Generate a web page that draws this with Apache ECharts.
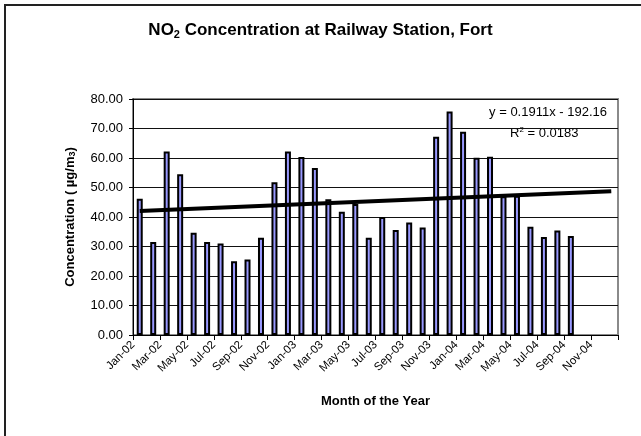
<!DOCTYPE html>
<html>
<head>
<meta charset="utf-8">
<script src="https://cdn.jsdelivr.net/npm/echarts@6/dist/echarts.min.js"></script>
<style>
html,body{margin:0;padding:0;background:#fff;}
#chart{width:641px;height:436px;}
</style>
</head>
<body>
<div id="chart"></div>
<script>
// Month labels (one per month, Jan-02 .. Dec-04)
var months = ['Jan-02','Feb-02','Mar-02','Apr-02','May-02','Jun-02','Jul-02','Aug-02','Sep-02','Oct-02','Nov-02','Dec-02',
              'Jan-03','Feb-03','Mar-03','Apr-03','May-03','Jun-03','Jul-03','Aug-03','Sep-03','Oct-03','Nov-03','Dec-03',
              'Jan-04','Feb-04','Mar-04','Apr-04','May-04','Jun-04','Jul-04','Aug-04','Sep-04','Oct-04','Nov-04','Dec-04'];
// NO2 concentration (µg/m3), Jan-02 .. Sep-04
var no2 = [46.2, 31.5, 62.2, 54.5, 34.7, 31.5, 31.0, 25.0, 25.6, 33.0, 51.8, 62.2,
           60.3, 56.6, 46.0, 41.8, 44.4, 33.0, 40.0, 35.6, 38.1, 36.4, 67.2, 75.8,
           68.9, 60.1, 60.4, 47.0, 47.2, 36.7, 33.2, 35.4, 33.6];
// Linear trend end points (month position, value)
var trendX = [0.5, 35.5];
var trendY = [42.0, 48.7];
var yTicks = [0, 10, 20, 30, 40, 50, 60, 70, 80];

var chart = echarts.init(document.getElementById('chart'), null, {renderer: 'canvas'});
var font = 'Liberation Sans, Arial, sans-serif';

var barData = no2.map(function (v, i) { return [i + 0.5, v]; });
var trendData = trendX.map(function (x, i) { return [x, trendY[i]]; });

chart.setOption({
  animation: false,
  backgroundColor: '#fff',
  title: {
    text: 'NO{sub|2} Concentration at Railway Station, Fort',
    left: 'center',
    top: 16,
    textStyle: {
      fontFamily: font, fontSize: 17, fontWeight: 'bold', color: '#000',
      rich: {
        sub: {fontFamily: font, fontSize: 11, fontWeight: 'bold', verticalAlign: 'bottom', padding: [8, 0, 0, 0], color: '#000'}
      }
    }
  },
  grid: {left: 133, right: 23, top: 99, bottom: 101, containLabel: false, show: false},
  xAxis: {
    type: 'value',
    min: 0, max: 36, interval: 2,
    name: 'Month of the Year',
    nameLocation: 'middle',
    nameGap: 60,
    nameTextStyle: {fontFamily: font, fontSize: 13, fontWeight: 'bold', color: '#000'},
    axisLine: {show: true, lineStyle: {color: '#000', width: 1}},
    axisTick: {show: true, length: 5, lineStyle: {color: '#000'}},
    splitLine: {show: false},
    axisLabel: {
      rotate: 45, fontFamily: font, fontSize: 11.5, color: '#000', margin: 8,
      showMaxLabel: true,
      formatter: function (v) { return v < 36 ? months[v] : ''; }
    }
  },
  yAxis: {
    type: 'value',
    min: yTicks[0], max: yTicks[yTicks.length - 1], interval: 10,
    name: 'Concentration ( µg/m{sub|3})',
    nameLocation: 'middle',
    nameGap: 56,
    nameTextStyle: {
      fontFamily: font, fontSize: 13, fontWeight: 'bold', color: '#000',
      rich: {sub: {fontFamily: font, fontSize: 9, fontWeight: 'bold', verticalAlign: 'bottom', padding: [5, 0, 0, 0], color: '#000'}}
    },
    axisLine: {show: true, lineStyle: {color: '#000', width: 1}},
    axisTick: {show: true, length: 4, lineStyle: {color: '#000'}},
    splitLine: {show: true, lineStyle: {color: '#111', width: 1}},
    axisLabel: {fontFamily: font, fontSize: 13, color: '#000', margin: 10,
      formatter: function (v) { return v.toFixed(2); }}
  },
  series: [
    {
      type: 'bar',
      data: barData,
      barWidth: 6,
      itemStyle: {color: '#9999FF', borderColor: '#000', borderWidth: 2},
      z: 2
    },
    {
      type: 'line',
      data: trendData,
      symbol: 'none',
      lineStyle: {color: '#000', width: 4},
      z: 3
    }
  ],
  graphic: [
    {type: 'rect', shape: {x: 5, y: 5, width: 700, height: 500}, style: {fill: 'none', stroke: '#222', lineWidth: 2}, silent: true},
    {type: 'rect', shape: {x: 133, y: 99, width: 485, height: 236}, style: {fill: 'none', stroke: '#8a8a8a', lineWidth: 2}, silent: true, z: 0},
    {type: 'text', right: 34, top: 106, style: {text: 'y = 0.1911x - 192.16', font: '13px ' + font, fill: '#000'}},
    {type: 'text', left: 510, top: 126, style: {text: 'R{sup|2} = 0.0183', font: '13px ' + font, fill: '#000',
      rich: {sup: {fontSize: 8, verticalAlign: 'top', padding: [0, 0, 7, 0], fontFamily: font}}}}
  ]
});
</script>
</body>
</html>
